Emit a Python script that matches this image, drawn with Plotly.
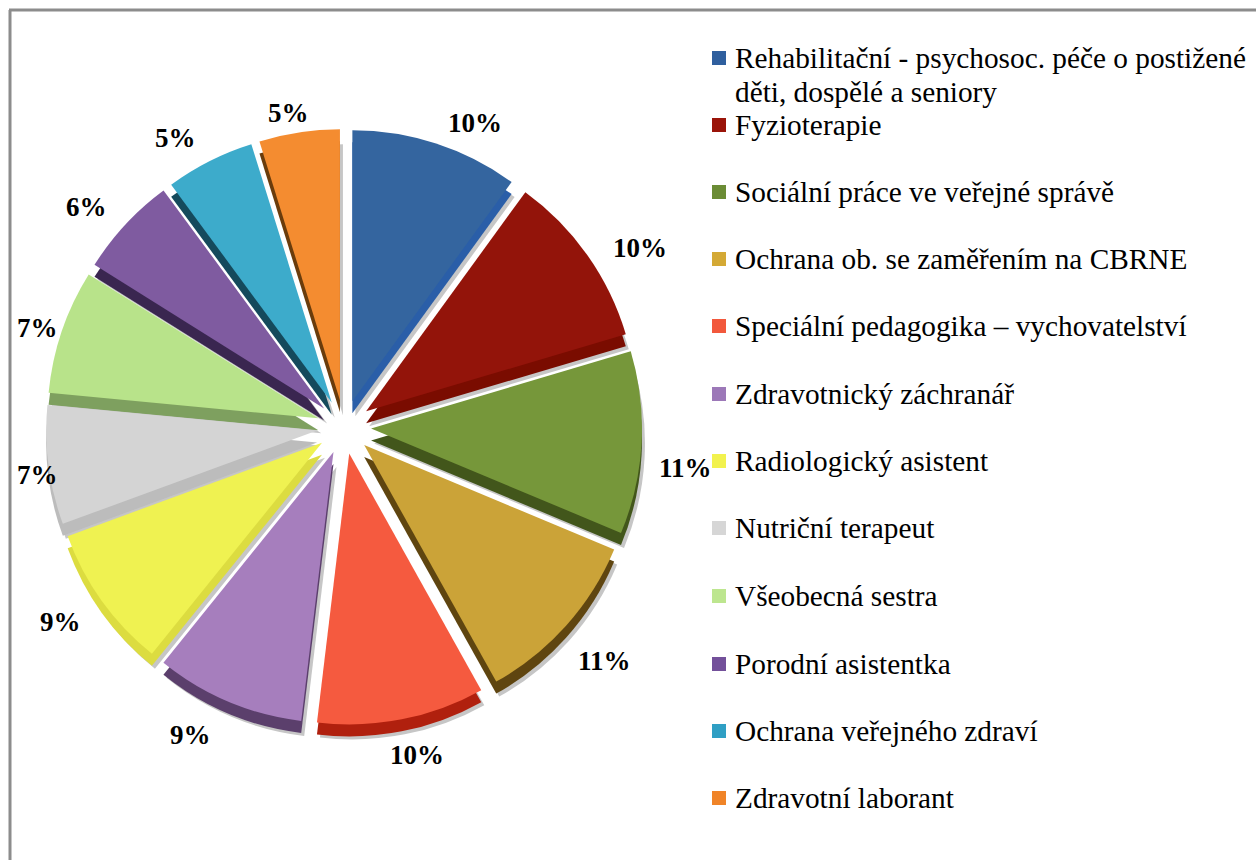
import plotly.graph_objects as go

W = 1256
H = 860

labels = [
    "Rehabilitační - psychosoc. péče o postižené",
    "Fyzioterapie",
    "Sociální práce ve veřejné správě",
    "Ochrana ob. se zaměřením na CBRNE",
    "Speciální pedagogika – vychovatelství",
    "Zdravotnický záchranář",
    "Radiologický asistent",
    "Nutriční terapeut",
    "Všeobecná sestra",
    "Porodní asistentka",
    "Ochrana veřejného zdraví",
    "Zdravotní laborant",
]
first_label_line2 = "děti, dospělé a seniory"
shares = [10.0, 10.4, 10.9, 10.6, 10.0, 8.9, 8.6, 7.1, 7.4, 6.0, 5.3, 4.8]

top_colors = ["#34659f", "#93140a", "#76973a", "#cba338", "#f55a3f", "#a67ebd",
              "#eff251", "#d4d4d4", "#b8e38a", "#7f5ba0", "#3dabcb", "#f48c30"]
side_colors = ["#2a5ea8", "#7a0c00", "#42561b", "#5f4510", "#b0200e", "#5b3f6c",
               "#dcdc40", "#bcbcbc", "#7ea05f", "#3a2650", "#154a5c", "#6a3c0c"]
key_colors = ["#2f5f9e", "#9a1409", "#6b8c35", "#d4a935", "#f2583c", "#9c78b8",
              "#f2f24e", "#d6d6d6", "#bde68f", "#73509a", "#2f9fc4", "#f08428"]

legend_y = [58, 125, 192, 259, 326, 394, 461, 528, 596, 664, 731, 798]
# percent labels sit at hand-placed spots, as in the original
pct_xy = [(475, 123), (640, 248), (685, 468), (604, 661), (417, 755), (190, 735),
          (60, 622), (37, 475), (37, 328), (86, 207), (175, 138), (288, 113)]

cx, cy = 344, 427
size = 298
pull = 0.1
depth = 12


def px_domain(x0, y0, half):
    return dict(
        x=[(x0 - half) / W, (x0 + half) / W],
        y=[1 - (y0 + half) / H, 1 - (y0 - half) / H],
    )


def px_x(x):
    return x / W


def px_y(y):
    return 1 - y / H


fig = go.Figure()

# grey shadow, side wall and top face are the same pie stacked
for dx, dy, colors in [(3, depth + 3, ["#c6c6c6"] * 12), (0, depth, side_colors), (0, 0, top_colors)]:
    fig.add_trace(go.Pie(
        labels=labels, values=shares, sort=False, direction="clockwise", rotation=0,
        pull=pull, domain=px_domain(cx + dx, cy + dy, size),
        marker=dict(colors=colors, line=dict(width=0)),
        textinfo="none", hoverinfo="label+percent", showlegend=False,
    ))

shapes = [
    dict(type="line", xref="paper", yref="paper", x0=px_x(9), x1=1, y0=px_y(10), y1=px_y(10),
         line=dict(color="#8c8c8c", width=3)),
    dict(type="line", xref="paper", yref="paper", x0=px_x(10), x1=px_x(10), y0=0, y1=px_y(10),
         line=dict(color="#8c8c8c", width=3)),
]
annotations = []
for name, y, color in zip(labels, legend_y, key_colors):
    shapes.append(dict(
        type="rect", xref="paper", yref="paper", line=dict(width=0), fillcolor=color,
        x0=px_x(712), x1=px_x(726), y0=px_y(y + 7), y1=px_y(y - 7),
    ))
    annotations.append(dict(
        xref="paper", yref="paper", x=px_x(733), y=px_y(y), text=name,
        xanchor="left", yanchor="middle", align="left", showarrow=False,
        font=dict(family="Liberation Serif", size=29.3, color="black"),
    ))
annotations.append(dict(
    xref="paper", yref="paper", x=px_x(733), y=px_y(92), text=first_label_line2,
    xanchor="left", yanchor="middle", align="left", showarrow=False,
    font=dict(family="Liberation Serif", size=29.3, color="black"),
))

for share, (x, y) in zip(shares, pct_xy):
    annotations.append(dict(
        xref="paper", yref="paper", x=px_x(x), y=px_y(y), text=f"<b>{round(share)}%</b>",
        xanchor="center", yanchor="middle", showarrow=False,
        font=dict(family="Liberation Serif", size=27, color="black"),
    ))

fig.update_layout(
    width=W, height=H,
    margin=dict(l=0, r=0, t=0, b=0, autoexpand=False),
    paper_bgcolor="white",
    font=dict(family="Liberation Serif", color="black"),
    shapes=shapes,
    annotations=annotations,
)

fig.write_html(
    "out.html",
    config=dict(displayModeBar=False),
    post_script="document.body.style.margin='0';document.body.style.overflow='hidden';",
)
